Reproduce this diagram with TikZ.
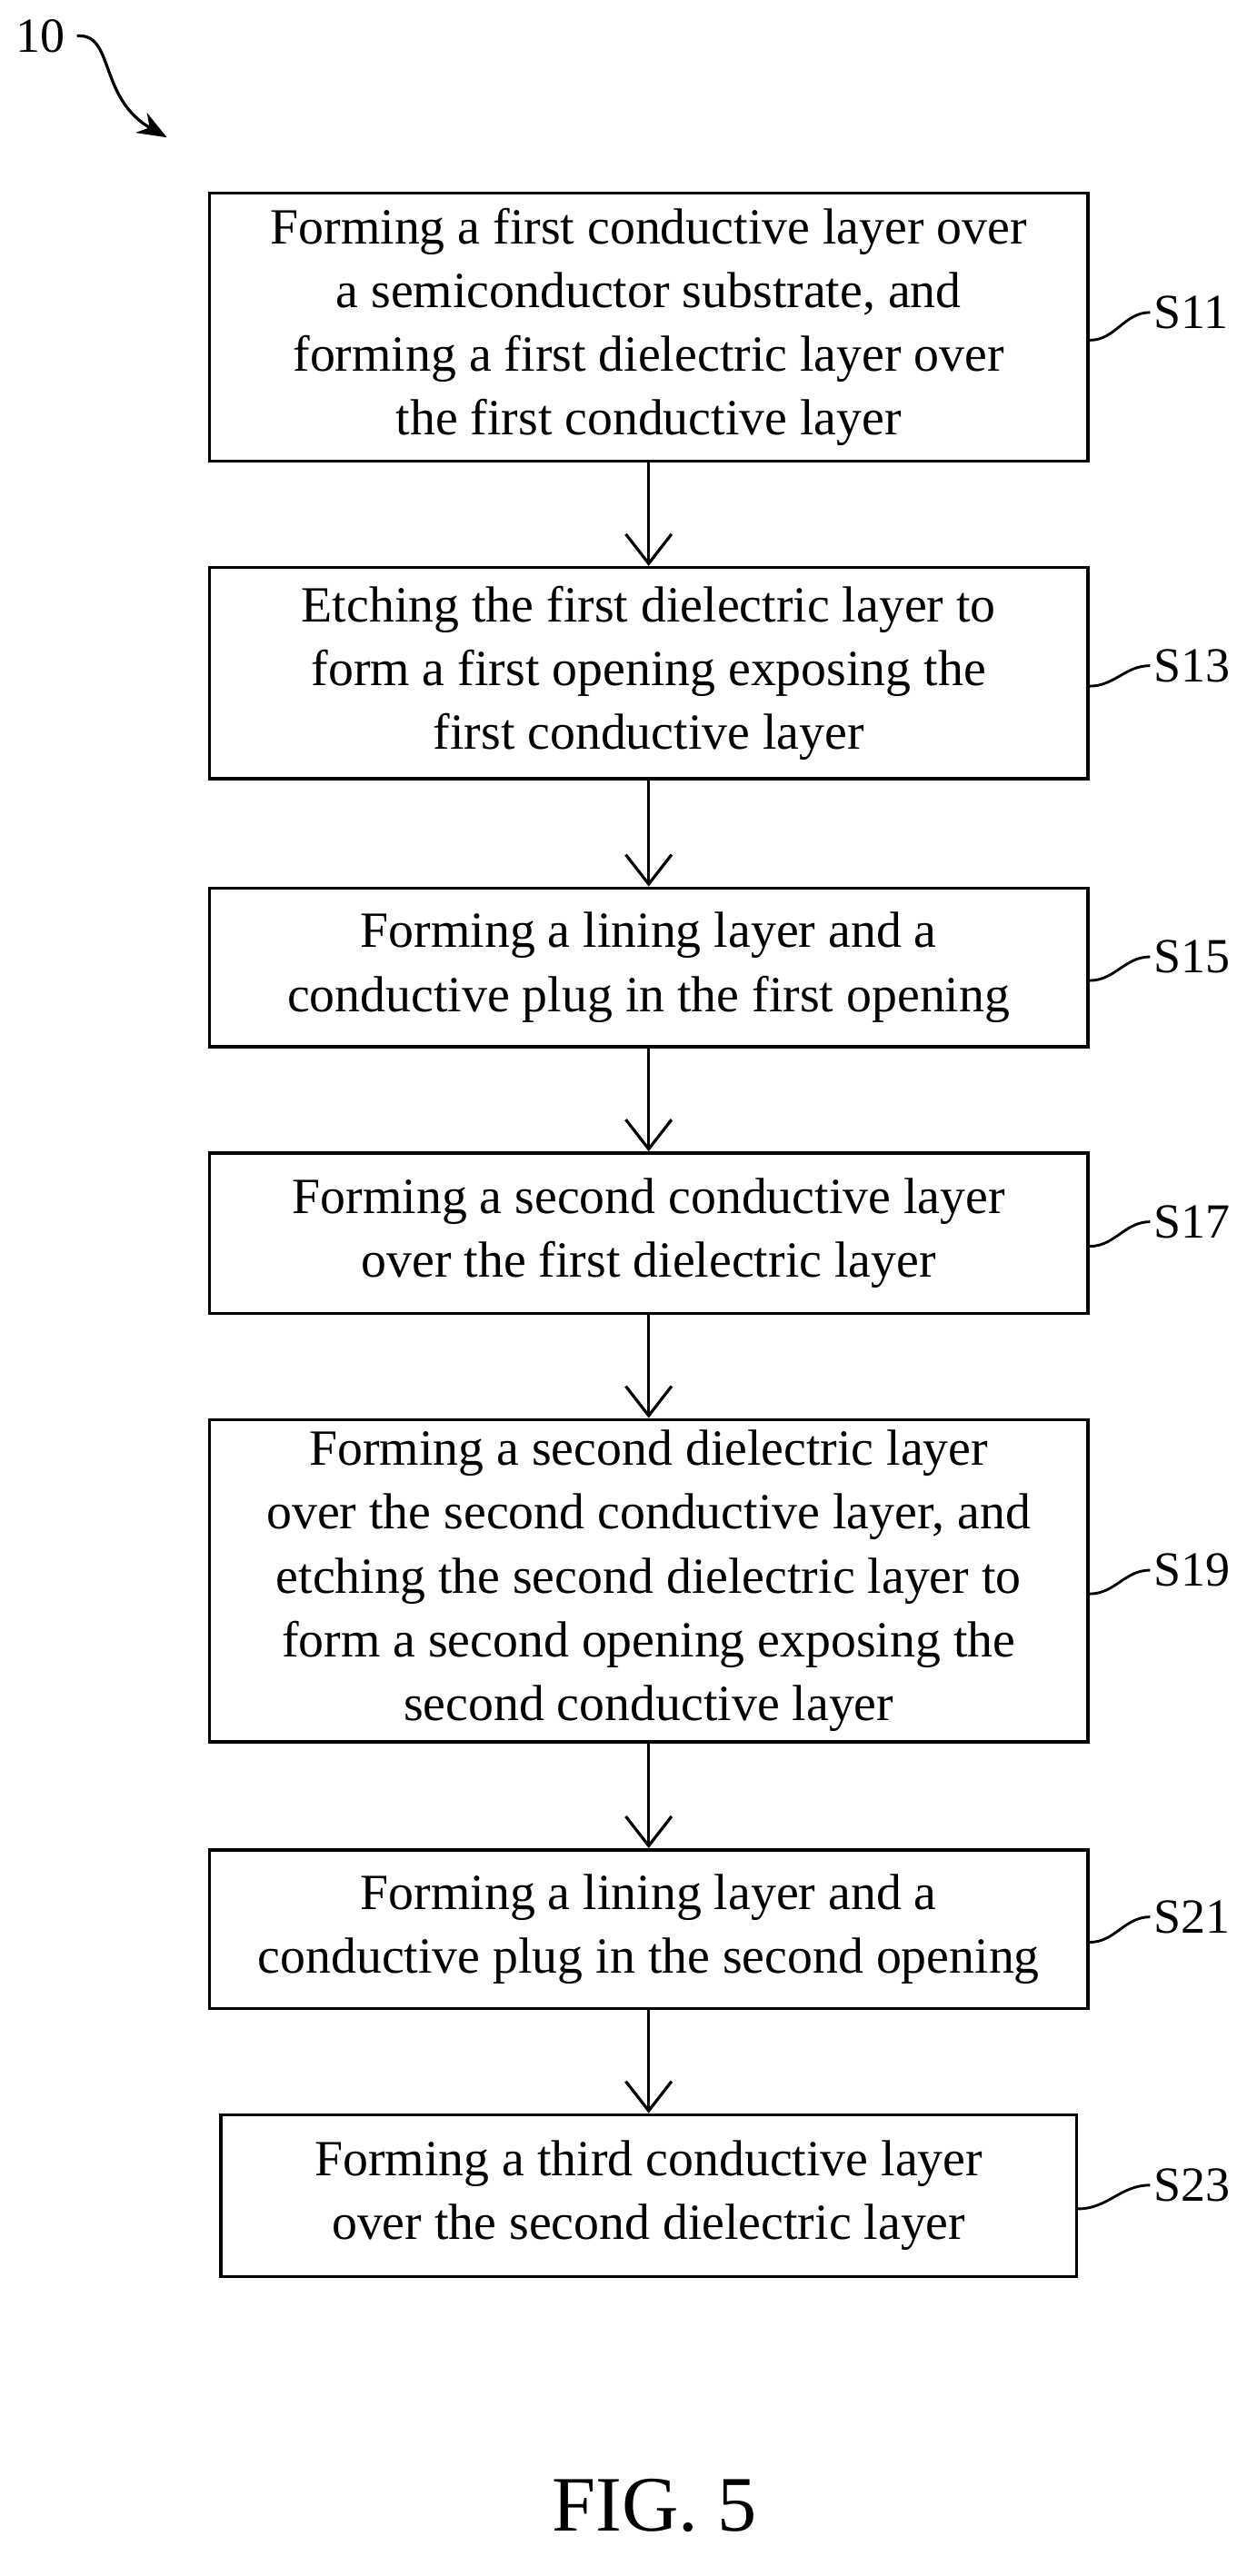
\documentclass[tikz,border=0pt]{standalone}
\usepackage{fontspec}
\setmainfont{Liberation Serif}
\usetikzlibrary{arrows.meta}
\usetikzlibrary{positioning}
\tikzset{stepbox/.style = {draw, line width=1pt, align=center, font=\fontsize{15.5}{19.5}\selectfont,
                        inner sep=0pt},
         flow/.style = {line width=0.9pt, -{Straight Barb[length=9pt,width=14pt]}},
         tag/.style  = {font=\fontsize{15}{18}\selectfont, anchor=west, inner sep=1pt}}

\begin{document}
\begin{tikzpicture}[x=0.5pt, y=-0.5pt]
    \useasboundingbox (0, 0) rectangle (768, 1575);

    \node [stepbox, minimum width=268.5pt, minimum height=82pt] (b1) at (396.5, 200)
      {Forming a first conductive layer over\\a semiconductor substrate, and\\forming a first dielectric layer over\\the first conductive layer};
    \node [stepbox, minimum width=268.5pt, minimum height=64.5pt] (b2) at (396.5, 411.5)
      {Etching the first dielectric layer to\\form a first opening exposing the\\first conductive layer};
    \node [stepbox, minimum width=268.5pt, minimum height=48.5pt] (b3) at (396.5, 591.5)
      {Forming a lining layer and a\\conductive plug in the first opening};
    \node [stepbox, minimum width=268.5pt, minimum height=49pt] (b4) at (396.5, 754)
      {Forming a second conductive layer\\over the first dielectric layer};
    \node [stepbox, minimum width=268.5pt, minimum height=98.5pt] (b5) at (396.5, 966.5)
      {Forming a second dielectric layer\\over the second conductive layer, and\\etching the second dielectric layer to\\form a second opening exposing the\\second conductive layer};
    \node [stepbox, minimum width=268.5pt, minimum height=48.5pt] (b6) at (396.5, 1179.5)
      {Forming a lining layer and a\\conductive plug in the second opening};
    \node [stepbox, minimum width=261.5pt, minimum height=49.5pt] (b7) at (396.5, 1342.5)
      {Forming a third conductive layer\\over the second dielectric layer};

    % step arrows
    \foreach \a/\b in {b1/b2, b2/b3, b3/b4, b4/b5, b5/b6, b6/b7}
      \draw [flow] (\a.south) -- (\b.north);

    % step tags
    \foreach \n/\t/\y in {b1/S11/191, b2/S13/407, b3/S15/585, b4/S17/747, b5/S19/960, b6/S21/1172, b7/S23/1336}
      {
        \node [tag] (t\n) at (703, \y) {\t};
        \draw [line width=0.8pt] (t\n.west) to[out=180, in=0] ([yshift=-4pt]\n.east);
      }

    \node [font=\fontsize{15}{18}\selectfont] (ref) at (25, 22) {10};
    \coordinate (refend) at (102, 84);
    \draw [line width=0.9pt, -{Stealth[length=9pt,width=7pt]}] (ref.east) .. controls (70, 20) and (60, 60) .. (refend);

    \node [font=\fontsize{24}{28}\selectfont] (fig) at (400, 1532) {FIG. 5};
\end{tikzpicture}
\end{document}
